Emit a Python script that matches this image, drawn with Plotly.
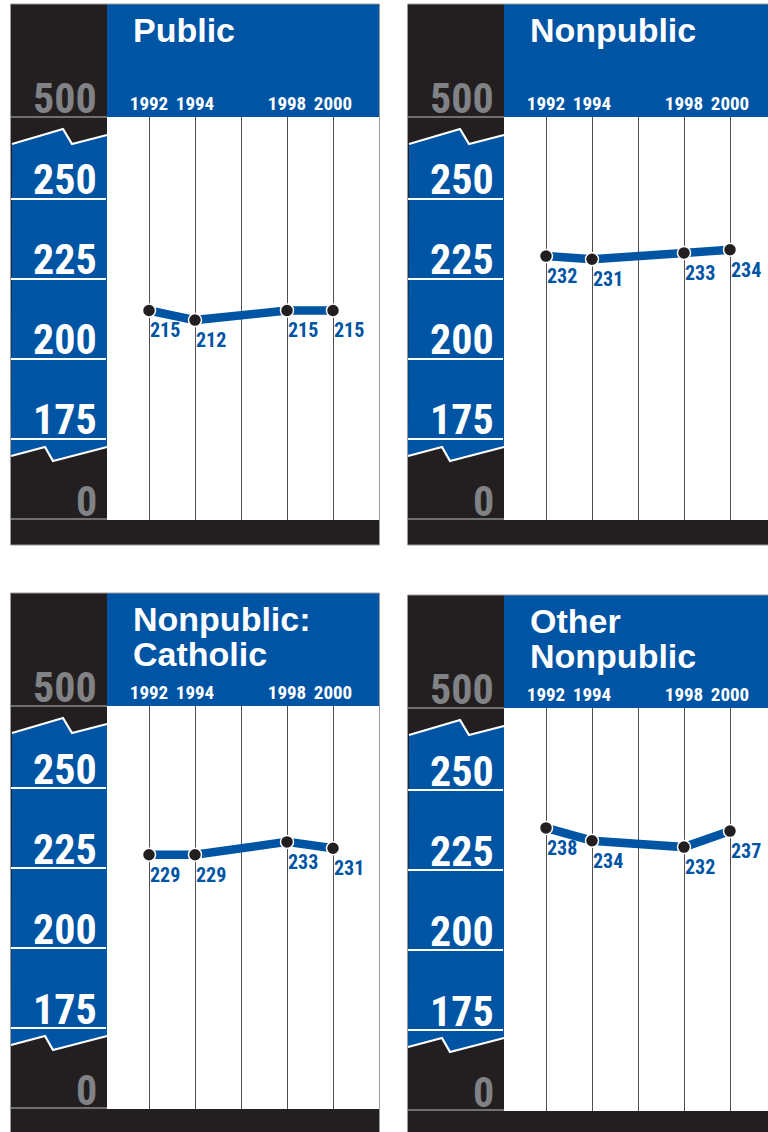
import plotly.graph_objects as go

# ---- data -------------------------------------------------------------
years = [1992, 1994, 1998, 2000]
grid_years = [1992, 1994, 1996, 1998, 2000]
year_labels = ["1992", "1994", "", "1998", "2000"]

public = [215, 212, 215, 215]
nonpublic = [232, 231, 233, 234]
catholic = [229, 229, 233, 231]
other_nonpublic = [238, 234, 232, 237]

panel_titles = [["Public"], ["Nonpublic"], ["Nonpublic:", "Catholic"], ["Other", "Nonpublic"]]
series = [public, nonpublic, catholic, other_nonpublic]

scale_ticks = [250, 225, 200, 175]
break_top_label = "500"
break_bottom_label = "0"

# ---- styling / geometry (pixels on a 768 x 1132 page) ----------------
W, H = 768, 1132
BLUE = "#0054a4"
DARK = "#231f20"
GREY_TXT = "#808285"
GREY_LINE = "#8c8c8c"
NARROW = "Roboto Condensed, Liberation Sans Narrow, Arial Narrow, DejaVu Sans Condensed, sans-serif"
SANS = "Liberation Sans, Arial, Helvetica, sans-serif"

# (left, top) of every panel
panel_origin = [(11, 4), (408, 4), (11, 593), (408, 595)]
COL_W = 96        # dark scale column width
PANEL_W = 369     # full panel width
HEAD_H = 113      # blue header height
PLOT_B = 516      # bottom of white plotting area (from panel top)
BAR_B = 541       # bottom of dark footer bar
PX_PER_PT = 3.2   # vertical pixels per score point
Y250 = 194.5      # offset of the 250 line from panel top
PX_PER_YEAR = 23
X1992 = 138       # offset of the 1992 gridline from panel left


def fx(px):
    return px / W


def fy(py):
    return 1 - py / H


fig = go.Figure()
shapes, annotations = [], []
layout_axes = {}

for i, ((L, T), vals, title) in enumerate(zip(panel_origin, series, panel_titles), start=1):
    R = L + PANEL_W
    R_vis = min(R, W)
    xa, ya = f"x{i}", f"y{i}"

    # axes: white plotting area
    x_left = L + COL_W
    x_range = [1992 + (x_left - (L + X1992)) / PX_PER_YEAR,
               1992 + (R_vis - (L + X1992)) / PX_PER_YEAR]
    y_range = [250 - (PLOT_B - Y250) / PX_PER_PT, 250 + (Y250 - HEAD_H) / PX_PER_PT]

    layout_axes[f"xaxis{i}"] = dict(
        domain=[fx(x_left), fx(R_vis)], range=x_range, anchor=ya, side="top",
        tickmode="array", tickvals=grid_years, ticktext=year_labels, ticks="",
        tickfont=dict(family=NARROW, size=19, color="white", weight="bold"),
        showgrid=True, gridcolor="#505050", gridwidth=1, zeroline=False,
        showline=False, fixedrange=True, ticklabelstandoff=2, automargin=False,
    )
    layout_axes[f"yaxis{i}"] = dict(
        domain=[fy(T + PLOT_B), fy(T + HEAD_H)], range=y_range, anchor=xa,
        tickmode="array", tickvals=scale_ticks, ticks="outside", ticklen=COL_W,
        tickwidth=1.6, tickcolor="white", showticklabels=False, showgrid=False,
        zeroline=False, showline=False, fixedrange=True, automargin=False,
    )

    fig.add_trace(go.Scatter(
        x=years, y=vals, xaxis=xa, yaxis=ya, mode="lines+markers",
        line=dict(color=BLUE, width=8.5),
        marker=dict(size=13, color=DARK, line=dict(color="white", width=1.5)),
        cliponaxis=False, showlegend=False, hoverinfo="skip",
    ))
    # value labels just below and right of each point
    for yr, v in zip(years, vals):
        annotations.append(dict(
            xref=xa, yref=ya, x=yr, y=v, xanchor="left", yanchor="top",
            xshift=-1, yshift=-6, text=str(v), showarrow=False,
            font=dict(family=NARROW, size=20, color=BLUE, weight="bold"),
        ))

    # dark scale column
    shapes.append(dict(type="rect", xref="paper", yref="paper", layer="below",
                       x0=fx(L), x1=fx(L + COL_W), y0=fy(T + PLOT_B), y1=fy(T),
                       fillcolor=DARK, line=dict(width=0)))
    # blue band between the two axis-break zigzags
    up = [(1, 140), (52, 125), (61, 140), (96, 131)]
    lo = [(96, 443), (42, 457), (34, 443), (0, 452)]
    pts = up + lo
    path = "M " + " L ".join(f"{fx(L + a):.5f},{fy(T + b):.5f}" for a, b in pts) + " Z"
    shapes.append(dict(type="path", xref="paper", yref="paper", layer="below", path=path,
                       fillcolor=BLUE, line=dict(width=0)))
    for zz in (up, lo):
        p = "M " + " L ".join(f"{fx(L + a):.5f},{fy(T + b):.5f}" for a, b in zz)
        shapes.append(dict(type="path", xref="paper", yref="paper", layer="below", path=p,
                           line=dict(color="white", width=2.2)))
    # grey rules under the 500 and 0 labels
    for off in (HEAD_H, PLOT_B - 1):
        shapes.append(dict(type="line", xref="paper", yref="paper", layer="below",
                           x0=fx(L), x1=fx(L + COL_W), y0=fy(T + off), y1=fy(T + off),
                           line=dict(color=GREY_LINE, width=1.5)))
    # blue header
    shapes.append(dict(type="rect", xref="paper", yref="paper", layer="below",
                       x0=fx(L + COL_W), x1=fx(R_vis), y0=fy(T + HEAD_H), y1=fy(T),
                       fillcolor=BLUE, line=dict(width=0)))
    # dark footer bar
    shapes.append(dict(type="rect", xref="paper", yref="paper", layer="below",
                       x0=fx(L), x1=fx(R_vis), y0=fy(T + BAR_B), y1=fy(T + PLOT_B),
                       fillcolor=DARK, line=dict(width=0)))
    # panel frame
    shapes.append(dict(type="rect", xref="paper", yref="paper", layer="above",
                       x0=fx(L - 0.5), x1=fx(R - 0.5), y0=fy(T + BAR_B), y1=fy(T),
                       fillcolor="rgba(0,0,0,0)", line=dict(color="#9a9a9a", width=1)))

    # header titles
    for k, line_txt in enumerate(title):
        annotations.append(dict(
            xref="paper", yref="paper", x=fx(L + 120), y=fy(T + 39 + 35 * k + 8),
            xanchor="left", yanchor="bottom", text=line_txt, showarrow=False,
            font=dict(family=SANS, size=34, color="white", weight="bold"),
        ))
    # scale labels on the break column
    for v in scale_ticks:
        annotations.append(dict(
            xref="paper", yref=ya, x=fx(L + 88), y=v, yshift=-8,
            xanchor="right", yanchor="bottom", text=str(v), showarrow=False,
            font=dict(family=NARROW, size=42, color="white", weight="bold"),
        ))
    annotations.append(dict(
        xref="paper", yref="paper", x=fx(L + 88), y=fy(T + 121),
        xanchor="right", yanchor="bottom", text=break_top_label, showarrow=False,
        font=dict(family=NARROW, size=42, color=GREY_TXT, weight="bold"),
    ))
    annotations.append(dict(
        xref="paper", yref="paper", x=fx(L + 88), y=fy(T + 524),
        xanchor="right", yanchor="bottom", text=break_bottom_label, showarrow=False,
        font=dict(family=NARROW, size=42, color=GREY_TXT, weight="bold"),
    ))

fig.update_layout(
    width=W, height=H, margin=dict(l=0, r=0, t=0, b=0, autoexpand=False),
    paper_bgcolor="white", plot_bgcolor="white",
    shapes=shapes, annotations=annotations, showlegend=False,
    **layout_axes,
)

fig.write_html("out.html", config={"displayModeBar": False})
